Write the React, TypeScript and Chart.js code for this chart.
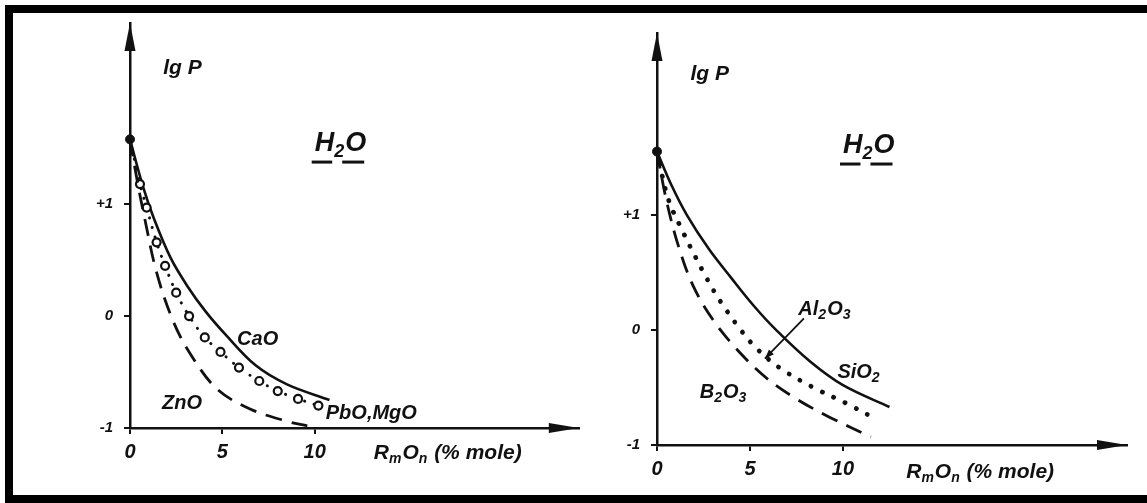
import React, { useEffect, useRef } from "react";
import { Chart, registerables } from "chart.js";

Chart.register(...registerables);

// ---- Left panel: lg P of H2O vs. RmOn content (modifier oxides) ----
const startLeft = 1.58;
const caoX = [0, 0.7, 1.3, 2.2, 3.1, 4.1, 5.2, 6.8, 8.5, 10.8];
const caoY = [1.58, 1.16, 0.87, 0.52, 0.27, 0.04, -0.17, -0.44, -0.61, -0.75];
const pbmgX = [0, 0.54, 0.9, 1.44, 1.9, 2.5, 3.2, 4.05, 4.9, 5.9, 7.0, 8.0, 9.1, 10.2];
const pbmgY = [1.58, 1.18, 0.97, 0.66, 0.45, 0.21, 0.0, -0.19, -0.32, -0.46, -0.58, -0.67, -0.74, -0.8];
const znoX = [0, 0.4, 0.8, 1.44, 2.3, 3.2, 4.7, 6.5, 8.5, 9.6];
const znoY = [1.58, 1.2, 0.87, 0.39, -0.03, -0.32, -0.65, -0.83, -0.94, -0.98];

// ---- Right panel: network-forming oxides ----
const startRight = 1.55;
const sio2X = [0, 0.8, 1.6, 2.8, 4.0, 5.2, 6.4, 8.2, 10.0, 12.5];
const sio2Y = [1.55, 1.25, 1.0, 0.7, 0.45, 0.21, 0.0, -0.27, -0.48, -0.67];
const al2o3X = [0, 0.6, 1.4, 2.05, 2.7, 3.4, 4.5, 5.35, 6.6, 8.4, 10.2, 11.6];
const al2o3Y = [1.55, 1.14, 0.85, 0.64, 0.44, 0.25, 0.0, -0.16, -0.33, -0.5, -0.64, -0.76];
const b2o3X = [0, 0.5, 1.15, 1.95, 3.0, 4.3, 5.9, 7.5, 9.3, 11.5];
const b2o3Y = [1.55, 1.13, 0.73, 0.38, 0.09, -0.17, -0.42, -0.6, -0.76, -0.93];

// ---- Axes ----
const xTicks = [0, 5, 10];
const xTickLabels = ["0", "5", "10"];
const yTicks = [-1, 0, 1];
const yTickLabels = ["-1", "0", "+1"];

const INK = "#111";
const FAMILY = '"Liberation Sans", Arial, Helvetica, sans-serif';

type Part = { t: string; sub?: boolean };
type Label = { parts: Part[]; x: number; y: number; size: number; underline?: boolean };

const lgP: Part[] = [{ t: "lg P" }];
const h2o: Part[] = [{ t: "H" }, { t: "2", sub: true }, { t: "O" }];
const axisTitle: Part[] = [
  { t: "R" }, { t: "m", sub: true }, { t: "O" }, { t: "n", sub: true }, { t: " (% mole)" },
];

const font = (size: number) => `italic bold ${size}px ${FAMILY}`;

function drawRich(ctx: CanvasRenderingContext2D, parts: Part[], x: number, y: number, size: number, underline = false) {
  let cx = x;
  ctx.textBaseline = "middle";
  ctx.textAlign = "left";
  ctx.fillStyle = INK;
  for (const p of parts) {
    const s = p.sub ? Math.round(size * 0.68) : size;
    ctx.font = font(s);
    const dy = p.sub ? size * 0.3 : 0;
    ctx.fillText(p.t, cx, y + dy);
    const w = ctx.measureText(p.t).width;
    if (underline && !p.sub) {
      ctx.fillRect(cx - 3, y + size * 0.62, w + 1, 3);
    }
    cx += w + (p.sub ? 1 : 0);
  }
}

function series(xs: number[], ys: number[]) {
  return xs.map((x, i) => ({ x, y: ys[i] }));
}

type PanelSpec = {
  width: number;
  yWidth: number;
  xHeight: number;
  padTop: number;
  padRight: number;
  xMax: number;
  yMax: number;
  datasets: any[];
  labels: Label[];
  titleX: number;
  titleDy: number;
  pointer?: { x0: number; y0: number; x1: number; y1: number };
};

function makeConfig(spec: PanelSpec): any {
  const decorations = {
    id: "decorations",
    afterDraw(chart: any) {
      const { ctx, chartArea: a, scales } = chart;
      const sx = scales.x;
      const sy = scales.y;
      ctx.save();
      ctx.fillStyle = INK;
      // arrowheads on both axes
      ctx.beginPath();
      ctx.moveTo(a.left, a.top);
      ctx.lineTo(a.left - 5.5, a.top + 28);
      ctx.lineTo(a.left + 5.5, a.top + 28);
      ctx.closePath();
      ctx.fill();
      ctx.beginPath();
      ctx.moveTo(a.right, a.bottom);
      ctx.lineTo(a.right - 30, a.bottom - 5);
      ctx.lineTo(a.right - 30, a.bottom + 5);
      ctx.closePath();
      ctx.fill();

      for (const l of spec.labels) {
        drawRich(ctx, l.parts, sx.getPixelForValue(l.x), sy.getPixelForValue(l.y), l.size, l.underline);
      }
      drawRich(ctx, axisTitle, sx.getPixelForValue(spec.titleX), a.bottom + spec.titleDy, 21);

      if (spec.pointer) {
        const p = spec.pointer;
        const x0 = sx.getPixelForValue(p.x0);
        const y0 = sy.getPixelForValue(p.y0);
        const x1 = sx.getPixelForValue(p.x1);
        const y1 = sy.getPixelForValue(p.y1);
        ctx.strokeStyle = INK;
        ctx.lineWidth = 1.8;
        ctx.beginPath();
        ctx.moveTo(x0, y0);
        ctx.lineTo(x1, y1);
        ctx.stroke();
        const ang = Math.atan2(y1 - y0, x1 - x0);
        ctx.beginPath();
        ctx.moveTo(x1, y1);
        ctx.lineTo(x1 - 10 * Math.cos(ang - 0.35), y1 - 10 * Math.sin(ang - 0.35));
        ctx.lineTo(x1 - 10 * Math.cos(ang + 0.35), y1 - 10 * Math.sin(ang + 0.35));
        ctx.closePath();
        ctx.fill();
      }
      ctx.restore();
    },
  };

  return {
    type: "line",
    data: { datasets: spec.datasets },
    options: {
      animation: false,
      responsive: false,
      maintainAspectRatio: false,
      devicePixelRatio: 1,
      layout: { padding: { left: 0, top: spec.padTop, right: spec.padRight, bottom: 0 } },
      plugins: { legend: { display: false }, tooltip: { enabled: false }, title: { display: false } },
      elements: { line: { tension: 0.35 } },
      scales: {
        x: {
          type: "linear",
          min: 0,
          max: spec.xMax,
          afterFit: (s: any) => { s.height = spec.xHeight; },
          afterBuildTicks: (s: any) => { s.ticks = xTicks.map((v) => ({ value: v })); },
          ticks: {
            color: INK,
            padding: 6,
            font: { family: FAMILY, size: 20, style: "italic", weight: "bold" },
            callback: (v: number) => xTickLabels[xTicks.indexOf(v)],
          },
          grid: { drawOnChartArea: false, drawTicks: true, tickLength: 6, color: INK, lineWidth: 2 },
          border: { display: true, color: INK, width: 2.5 },
        },
        y: {
          type: "linear",
          min: -1,
          max: spec.yMax,
          afterFit: (s: any) => { s.width = spec.yWidth; },
          afterBuildTicks: (s: any) => { s.ticks = yTicks.map((v) => ({ value: v })); },
          ticks: {
            color: INK,
            padding: 11,
            font: { family: FAMILY, size: 15, style: "italic", weight: "bold" },
            callback: (v: number) => yTickLabels[yTicks.indexOf(v)],
          },
          grid: { drawOnChartArea: false, drawTicks: true, tickLength: 6, color: INK, lineWidth: 2 },
          border: { display: true, color: INK, width: 2.5 },
        },
      },
    },
    plugins: [decorations],
  };
}

const solid = (data: any) => ({
  data, borderColor: INK, borderWidth: 2.6, pointRadius: 0, clip: false, fill: false,
});
const dashed = (data: any) => ({
  data, borderColor: INK, borderWidth: 2.8, borderDash: [17, 10], pointRadius: 0, clip: false, fill: false,
});
const dotted = (data: any) => ({
  data, borderColor: INK, borderWidth: 4.8, borderDash: [0.1, 12.5], borderCapStyle: "round",
  pointRadius: 0, clip: false, fill: false,
});
const circled = (data: any) => ({
  data, borderColor: INK, borderWidth: 3, borderDash: [0.1, 10], borderCapStyle: "round",
  pointRadius: (c: any) => (c.dataIndex === 0 ? 0 : 4),
  pointBackgroundColor: "#fff", pointBorderColor: INK, pointBorderWidth: 2.2,
  clip: false, fill: false,
});
const origin = (y: number) => ({
  data: [{ x: 0, y }], showLine: false, pointRadius: 4.5, pointBackgroundColor: INK,
  pointBorderColor: INK, clip: false,
});

const leftSpec: PanelSpec = {
  width: 585,
  yWidth: 130,
  xHeight: 75,
  padTop: 23,
  padRight: 5,
  xMax: 24.3,
  yMax: 2.62,
  datasets: [
    dashed(series(znoX, znoY)),
    circled(series(pbmgX, pbmgY)),
    solid(series(caoX, caoY)),
    origin(startLeft),
  ],
  labels: [
    { parts: lgP, x: 1.8, y: 2.22, size: 21 },
    { parts: h2o, x: 10.0, y: 1.54, size: 27, underline: true },
    { parts: [{ t: "CaO" }], x: 5.8, y: -0.21, size: 20 },
    { parts: [{ t: "ZnO" }], x: 1.73, y: -0.78, size: 20 },
    { parts: [{ t: "PbO,MgO" }], x: 10.6, y: -0.87, size: 20 },
  ],
  titleX: 13.2,
  titleDy: 25,
};

const rightSpec: PanelSpec = {
  width: 562,
  yWidth: 72,
  xHeight: 58,
  padTop: 33,
  padRight: 20,
  xMax: 25.27,
  yMax: 2.58,
  datasets: [
    dashed(series(b2o3X, b2o3Y)),
    dotted(series(al2o3X, al2o3Y)),
    solid(series(sio2X, sio2Y)),
    origin(startRight),
  ],
  labels: [
    { parts: lgP, x: 1.8, y: 2.22, size: 21 },
    { parts: h2o, x: 10.0, y: 1.6, size: 27, underline: true },
    { parts: [{ t: "Al" }, { t: "2", sub: true }, { t: "O" }, { t: "3", sub: true }], x: 7.6, y: 0.18, size: 20 },
    { parts: [{ t: "SiO" }, { t: "2", sub: true }], x: 9.7, y: -0.37, size: 20 },
    { parts: [{ t: "B" }, { t: "2", sub: true }, { t: "O" }, { t: "3", sub: true }], x: 2.3, y: -0.54, size: 20 },
  ],
  titleX: 13.4,
  titleDy: 27,
  pointer: { x0: 7.9, y0: 0.1, x1: 5.8, y1: -0.25 },
};

function Panel({ spec, left }: { spec: PanelSpec; left: number }) {
  const ref = useRef<HTMLCanvasElement | null>(null);
  useEffect(() => {
    if (!ref.current) return;
    const chart = new Chart(ref.current, makeConfig(spec));
    return () => chart.destroy();
  }, [spec]);
  return (
    <canvas
      ref={ref}
      width={spec.width}
      height={503}
      style={{ position: "absolute", left, top: 0, width: spec.width, height: 503 }}
    />
  );
}

export default function App() {
  const bar = (s: React.CSSProperties): React.CSSProperties => ({ position: "absolute", background: "#000", ...s });
  return (
    <div style={{ position: "absolute", left: 0, top: 0, width: 1147, height: 503, background: "#fff", overflow: "hidden" }}>
      <Panel spec={leftSpec} left={0} />
      <Panel spec={rightSpec} left={585} />
      <div style={bar({ left: 5, top: 5, width: 1142, height: 8 })} />
      <div style={bar({ left: 5, top: 5, width: 8, height: 498 })} />
      <div style={bar({ left: 5, top: 495, width: 1142, height: 8 })} />
    </div>
  );
}
